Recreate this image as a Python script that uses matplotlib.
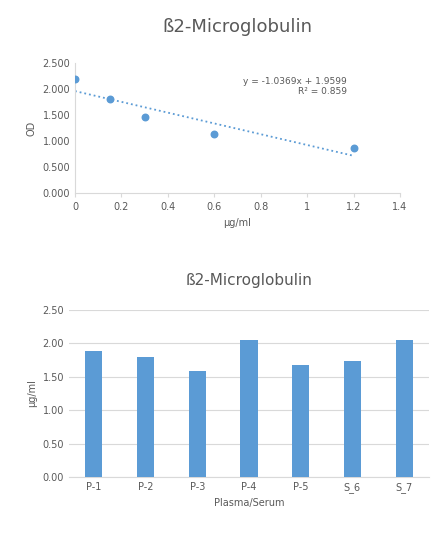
import matplotlib
matplotlib.use("Agg")
import matplotlib.pyplot as plt
import numpy as np

conc = [0, 0.15, 0.3, 0.6, 1.2]
od = [2.2, 1.8, 1.47, 1.13, 0.87]
slope, intercept = -1.0369, 1.9599
samples = ["P-1", "P-2", "P-3", "P-4", "P-5", "S_6", "S_7"]
values = [1.88, 1.80, 1.58, 2.05, 1.67, 1.73, 2.05]

blue = "#5B9BD5"
grid = "#D9D9D9"
tc = "#595959"
plt.rcParams['font.family'] = ['DejaVu Sans']
fig = plt.figure(figsize=(4.44, 5.36), dpi=100)

ax1 = fig.add_axes([75/444, 1-193/536, 325/444, 130/536])
ax1.scatter(conc, od, color=blue, s=22, zorder=3)
xs = np.array([0, 1.2])
ax1.plot(xs, slope*xs+intercept, ls=':', color=blue, lw=1.3)
ax1.set_xlim(0, 1.4); ax1.set_ylim(0, 2.5)
ax1.set_xticks(np.arange(0, 1.41, 0.2))
ax1.set_xticklabels(["0", "0.2", "0.4", "0.6", "0.8", "1", "1.2", "1.4"])
ax1.set_yticks(np.arange(0, 2.51, 0.5))
ax1.set_yticklabels([f"{v:.3f}" for v in np.arange(0, 2.51, 0.5)])
ax1.set_xlabel("µg/ml", fontsize=7, color=tc)
ax1.set_ylabel("OD", fontsize=7, color=tc)
ax1.set_title("ß2-Microglobulin", fontsize=13, color=tc, pad=22)
ax1.text(1.17, 2.05, "y = -1.0369x + 1.9599\nR² = 0.859", fontsize=6.5, color=tc, ha='right', va='center', linespacing=1.2)

ax2 = fig.add_axes([69/444, 1-477/536, 360/444, 167/536])
ax2.bar(samples, values, width=0.33, color=blue, zorder=3)
ax2.set_ylim(0, 2.5)
ax2.set_yticks(np.arange(0, 2.51, 0.5))
ax2.set_yticklabels([f"{v:.2f}" for v in np.arange(0, 2.51, 0.5)])
ax2.yaxis.grid(True, color=grid, lw=0.8, zorder=0)
ax2.set_xlabel("Plasma/Serum", fontsize=7, color=tc)
ax2.set_ylabel("µg/ml", fontsize=7, color=tc)
ax2.set_title("ß2-Microglobulin", fontsize=11, color=tc, pad=18)

for ax in (ax1, ax2):
    for s in ("top", "right", "left"):
        ax.spines[s].set_visible(False)
    ax.spines["bottom"].set_color(grid)
    ax.tick_params(length=0, labelsize=7, colors=tc)
ax1.spines["left"].set_visible(True); ax1.spines["left"].set_color(grid)
ax1.tick_params(axis='x', length=3, color=grid)

fig.savefig("out.png", dpi=100)
